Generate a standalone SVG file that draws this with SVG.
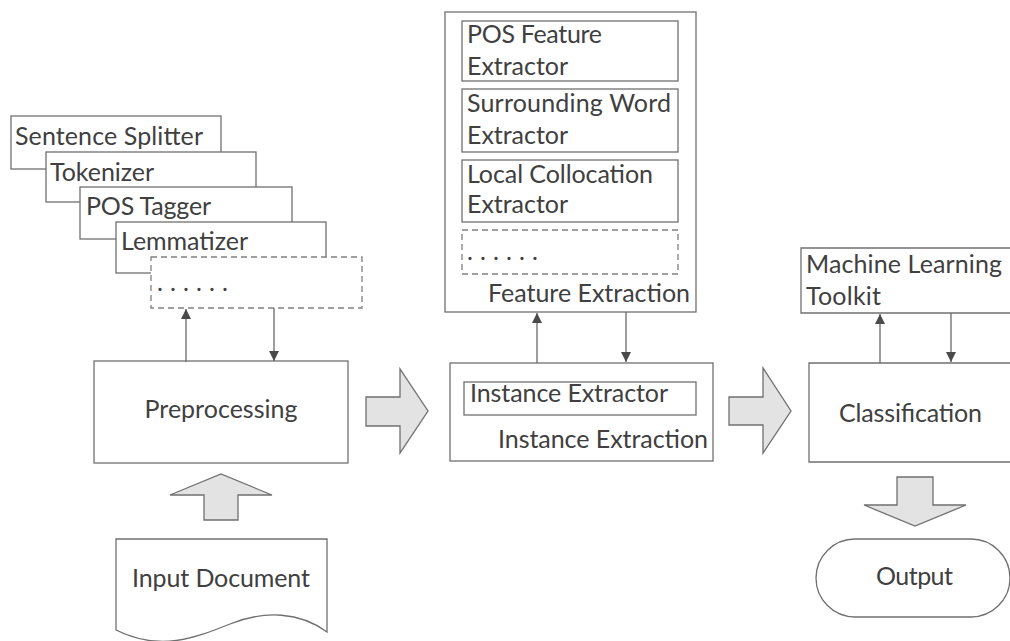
<svg xmlns="http://www.w3.org/2000/svg" width="1010" height="641" viewBox="0 0 1010 641">
<defs>
<style>
.box{fill:#fff;stroke:#707070;stroke-width:1.3}
.dash{fill:#fff;stroke:#808080;stroke-width:1.3;stroke-dasharray:6 4}
.blk{fill:#e3e3e3;stroke:#707070;stroke-width:1.3}
.t{font-family:Lato,"Liberation Sans",sans-serif;font-size:25px;fill:#404040}
.c{text-anchor:middle}
.ln{stroke:#6a6a6a;stroke-width:1.3;fill:none}
</style>
<marker id="ah" viewBox="0 0 10 10" refX="10" refY="5" markerWidth="10" markerHeight="10" markerUnits="userSpaceOnUse" orient="auto">
<path d="M0,0 L10,5 L0,10 Z" fill="#4a4a4a"/>
</marker>
</defs>
<rect width="1010" height="641" fill="#fff"/>

<g id="preproc-stack">
<rect class="box" x="11" y="116" width="210" height="53"/>
<text class="t" x="15" y="145" textLength="188">Sentence Splitter</text>
<rect class="box" x="46" y="152" width="210" height="50"/>
<text class="t" x="50" y="181" textLength="104">Tokenizer</text>
<rect class="box" x="80" y="187" width="212" height="52"/>
<text class="t" x="86" y="215" textLength="125">POS Tagger</text>
<rect class="box" x="116" y="222" width="210" height="51"/>
<text class="t" x="121" y="250" textLength="127">Lemmatizer</text>
<rect class="dash" x="151" y="257" width="211" height="51"/>
<text class="t" x="157" y="291" textLength="71">. . . . . .</text>
</g>

<g id="preprocessing">
<rect class="box" x="94" y="361" width="254" height="102"/>
<text class="t c" x="221" y="418" textLength="153">Preprocessing</text>
</g>

<g id="input-document">
<path class="box" d="M116,539 H327 V632 C300,612 265,610 230,624 C195,638 160,652 116,630 Z"/>
<text class="t c" x="221" y="587" textLength="178">Input Document</text>
</g>

<g id="feature-extraction">
<rect class="box" x="445" y="12" width="251" height="300"/>
<rect class="box" x="462" y="21" width="216" height="60"/>
<text class="t" x="467" y="43" textLength="135">POS Feature</text>
<text class="t" x="467" y="75" textLength="101">Extractor</text>
<rect class="box" x="462" y="89" width="216" height="63"/>
<text class="t" x="467" y="112" textLength="204">Surrounding Word</text>
<text class="t" x="467" y="144" textLength="101">Extractor</text>
<rect class="box" x="462" y="160" width="216" height="62"/>
<text class="t" x="467" y="183" textLength="186">Local Collocation</text>
<text class="t" x="467" y="213" textLength="101">Extractor</text>
<rect class="dash" x="462" y="230" width="216" height="44"/>
<text class="t" x="467" y="260" textLength="71">. . . . . .</text>
<text class="t" x="488" y="302" textLength="202">Feature Extraction</text>
</g>

<g id="instance-extraction">
<rect class="box" x="450" y="363" width="263" height="98"/>
<rect class="box" x="464" y="382" width="232" height="33"/>
<text class="t" x="470" y="402" textLength="198">Instance Extractor</text>
<text class="t" x="498" y="448" textLength="210">Instance Extraction</text>
</g>

<g id="ml-toolkit">
<path class="box" d="M1012,248 H801 V313 H1012"/>
<text class="t" x="806" y="273" textLength="196">Machine Learning</text>
<text class="t" x="806" y="305" textLength="75">Toolkit</text>
</g>

<g id="classification">
<path class="box" d="M1012,363 H809 V462 H1012"/>
<text class="t" x="839" y="422" textLength="143">Classification</text>
</g>

<g id="output">
<rect class="box" x="816" y="539" width="194" height="78" rx="39" ry="39"/>
<text class="t" x="876" y="585" textLength="77">Output</text>
</g>

<g id="connectors">
<line class="ln" x1="186" y1="362" x2="186" y2="309" marker-end="url(#ah)"/>
<line class="ln" x1="274" y1="308" x2="274" y2="361" marker-end="url(#ah)"/>
<line class="ln" x1="537" y1="363" x2="537" y2="313" marker-end="url(#ah)"/>
<line class="ln" x1="626" y1="312" x2="626" y2="362" marker-end="url(#ah)"/>
<line class="ln" x1="880" y1="363" x2="880" y2="314" marker-end="url(#ah)"/>
<line class="ln" x1="951" y1="313" x2="951" y2="362" marker-end="url(#ah)"/>
<path class="blk" d="M366,397 H400 V369 L428,411 L400,453 V426 H366 Z"/>
<path class="blk" d="M729,397 H763 V368 L791,411 L763,453 V425 H729 Z"/>
<path class="blk" d="M204,520 V495 H170 L221,474 L272,495 H238 V520 Z"/>
<path class="blk" d="M897,477 H933 V505 H966 L915,526 L864,505 H897 Z"/>
</g>
</svg>
